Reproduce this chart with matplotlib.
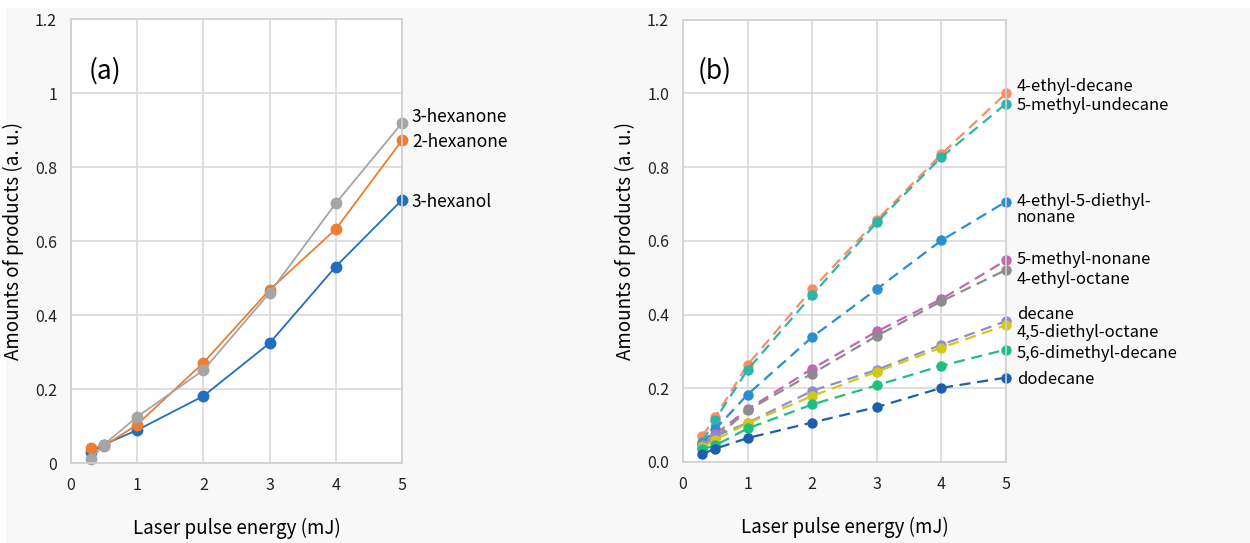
import numpy as np
import matplotlib
matplotlib.use('Agg')
import matplotlib.pyplot as plt
from matplotlib.patches import Rectangle

plt.rcParams['font.family'] = ['Noto Sans CJK JP', 'DejaVu Sans']

energy = [0.3, 0.5, 1, 2, 3, 4, 5]

# panel (a)
names_a = ['3-hexanol', '2-hexanone', '3-hexanone']
hexanol = [0.029, 0.050, 0.089, 0.181, 0.324, 0.531, 0.711]
hexanone2 = [0.040, 0.046, 0.104, 0.271, 0.468, 0.632, 0.872]
hexanone3 = [0.011, 0.050, 0.125, 0.251, 0.460, 0.702, 0.919]
label_y_a = [0.705, 0.868, 0.934]
colors_a = ['#1f6fbf', '#ed7d31', '#a5a5a5']

# panel (b)
names_b = ['4-ethyl-decane', '5-methyl-undecane', '4-ethyl-5-diethyl-\nnonane',
           '5-methyl-nonane', '4-ethyl-octane', 'decane', '4,5-diethyl-octane',
           '5,6-dimethyl-decane', 'dodecane']
ethyl_decane = [0.070, 0.122, 0.264, 0.469, 0.656, 0.835, 1.000]
methyl_undecane = [0.055, 0.115, 0.250, 0.453, 0.650, 0.827, 0.972]
ethyl_diethyl_nonane = [0.050, 0.089, 0.183, 0.339, 0.469, 0.601, 0.706]
methyl_nonane = [0.045, 0.075, 0.143, 0.253, 0.354, 0.442, 0.547]
ethyl_octane = [0.040, 0.065, 0.140, 0.240, 0.342, 0.436, 0.521]
decane = [0.045, 0.070, 0.106, 0.193, 0.250, 0.318, 0.382]
diethyl_octane = [0.040, 0.060, 0.105, 0.179, 0.245, 0.310, 0.371]
dimethyl_decane = [0.035, 0.045, 0.091, 0.156, 0.208, 0.261, 0.305]
dodecane = [0.021, 0.036, 0.065, 0.107, 0.149, 0.201, 0.229]
label_y_b = [1.018, 0.968, 0.684, 0.549, 0.496, 0.400, 0.352, 0.294, 0.223]
colors_b = ['#fc8d62', '#2ab7a9', '#2a8fd0', '#c366b4', '#8c8c8c',
            '#8d8fca', '#d2c81c', '#1fbf7f', '#1c5fae']

fig = plt.figure(figsize=(12.5, 5.43), dpi=100, facecolor='white')
fig.patches.append(Rectangle((6 / 1250, 0), 1, 1 - 8 / 543, transform=fig.transFigure,
                             facecolor='#f8f8f8', edgecolor='none', zorder=-10))

ax1 = fig.add_axes([0.0568, 0.1473, 0.2648, 0.8177])
ax2 = fig.add_axes([0.5464, 0.1492, 0.2584, 0.8147])

for ax in (ax1, ax2):
    ax.set_facecolor('white')
    ax.set_xlim(0, 5)
    ax.set_ylim(0, 1.2)
    ax.set_xticks(range(6))
    ax.set_yticks(np.arange(0, 1.21, 0.2))
    ax.grid(True, color='#d9d9d9', linewidth=1.2)
    ax.set_axisbelow(True)
    for s in ax.spines.values():
        s.set_color('#d0d0d0')
        s.set_linewidth(1.2)
    ax.tick_params(length=0, labelsize=11.5, pad=10, colors='#222222')
    ax.set_xlabel('Laser pulse energy (mJ)', fontsize=13.5, labelpad=17)
    ax.set_ylabel('Amounts of products (a. u.)', fontsize=13.5, labelpad=8)

ax1.set_yticklabels(['0', '0.2', '0.4', '0.6', '0.8', '1', '1.2'])
ax2.set_yticklabels(['0.0', '0.2', '0.4', '0.6', '0.8', '1.0', '1.2'])

series_a = [hexanol, hexanone2, hexanone3]
for name, vals, c, ly in zip(names_a, series_a, colors_a, label_y_a):
    ax1.plot(energy, vals, '-o', color=c, lw=1.3, markersize=7.5, clip_on=False)
    ax1.text(5.15, ly, name, fontsize=12.5, va='center', ha='left')

series_b = [ethyl_decane, methyl_undecane, ethyl_diethyl_nonane, methyl_nonane,
            ethyl_octane, decane, diethyl_octane, dimethyl_decane, dodecane]
for name, vals, c, ly in zip(names_b, series_b, colors_b, label_y_b):
    ax2.plot(energy, vals, '--', color=c, lw=1.6, dashes=(5, 3), clip_on=False)
    ax2.plot(energy, vals, 'o', color=c, markersize=6.5, clip_on=False)
    ax2.text(5.17, ly, name, fontsize=12, va='center', ha='left', linespacing=0.9)

ax1.text(0.27, 1.06, '(a)', fontsize=19, va='center')
ax2.text(0.23, 1.06, '(b)', fontsize=19, va='center')

plt.savefig('out.png', dpi=100, facecolor=fig.get_facecolor())
